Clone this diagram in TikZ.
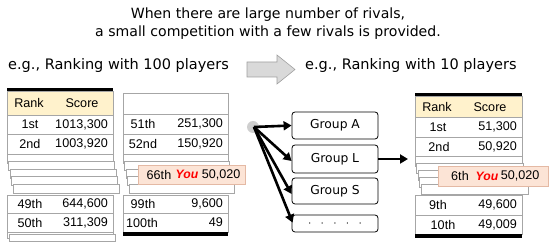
\documentclass[tikz,border=0pt]{standalone}
\usepackage{fontspec}
\setmainfont{Liberation Sans}
\newfontfamily\vfont{DejaVu Sans}
\usetikzlibrary{arrows.meta}
\definecolor{cellgray}{HTML}{A6A6A6}
\definecolor{hdrfill}{HTML}{FFF2CC}
\definecolor{youfill}{HTML}{FCE4D6}
\definecolor{youdraw}{HTML}{E4B9A4}
\definecolor{youred}{HTML}{FF0000}
\definecolor{dotgray}{HTML}{CFCFCF}
\definecolor{arrgray}{HTML}{D9D9D9}
\definecolor{arrline}{HTML}{A0A0A0}
\tikzset{
  cell/.style={draw=cellgray, fill=white, line width=0.7pt},
  hdr/.style={draw=cellgray, fill=hdrfill, line width=0.7pt},
  bar/.style={fill=black},
  txt/.style={font=\fontsize{12.6}{14}\selectfont, inner sep=0pt},
  youbox/.style={draw=youdraw, fill=youfill, line width=0.7pt},
  youtxt/.style={font=\fontsize{12.2}{14}\selectfont\bfseries\itshape, text=youred, inner sep=0pt},
  grp/.style={draw=black, fill=white, rounded corners=3pt, line width=0.8pt, minimum width=86pt, inner sep=0pt, font=\vfont\fontsize{12.3}{14}\selectfont},
  conn/.style={line width=2.6pt, -{Triangle[length=8pt,width=9pt]}},
  title/.style={font=\vfont\fontsize{14.1}{16}\selectfont, inner sep=0pt},
  sub/.style={font=\vfont\fontsize{14.5}{16}\selectfont, inner sep=0pt},
}
\begin{document}
\begin{tikzpicture}[x=1pt,y=-1pt]
\useasboundingbox (0,0) rectangle (550,248);
% titles
\node[title] (t1) at (268,15) {When there are large number of rivals,};
\node[title] (t2) at (268,33) {a small competition with a few rivals is provided.};
\node[sub, anchor=west] (eg1) at (8,66) {e.g., Ranking with 100 players};
\node[sub, anchor=west] (eg2) at (305,66) {e.g., Ranking with 10 players};
\draw[draw=arrline, fill=arrgray, line width=0.6pt]
  (247,62) -- (277,62) -- (277,55) -- (295,69.5) -- (277,84) -- (277,77) -- (247,77) -- cycle;

% ---------- table 1 ----------
\fill[bar] (7,88) rectangle (113,91.5);
\draw[hdr] (7,91.5) rectangle (113,115);
\node[txt] at (29,103) {Rank};
\node[txt] at (82,103) {Score};
\draw[cell] (7,115) rectangle (113,134);
\draw[cell] (7,134) rectangle (113,154);
\node[txt] at (30,124.5) {1st};
\node[txt, anchor=east] at (108,124.5) {1013,300};
\node[txt] at (30,144) {2nd};
\node[txt, anchor=east] at (108,144) {1003,920};
\foreach \i in {0,...,4}{
  \draw[cell] (7+1.5*\i,154+7.5*\i) rectangle (113+1.5*\i,163+7.5*\i);
}
\draw[cell] (7,195) rectangle (113,213);
\draw[cell] (7,213) rectangle (113,232);
\node[txt] at (30,204) {49th};
\node[txt, anchor=east] at (108,204) {644,600};
\node[txt] at (30,222.5) {50th};
\node[txt, anchor=east] at (108,222.5) {311,309};
\draw[cell] (7,232) rectangle (113,238);
\draw[cell] (9,234) rectangle (115,241);

% ---------- table 2 ----------
\draw[cell] (123,93) rectangle (228,114);
\draw[cell] (123,114) rectangle (228,134);
\draw[cell] (123,134) rectangle (228,154);
\node[txt] at (143,124) {51th};
\node[txt, anchor=east] at (223,124) {251,300};
\node[txt] at (143,144) {52nd};
\node[txt, anchor=east] at (223,144) {150,920};
\foreach \i in {0,...,4}{
  \draw[cell] (123+1.5*\i,154+7.5*\i) rectangle (228+1.5*\i,163+7.5*\i);
}
\draw[cell] (123,195) rectangle (228,213);
\draw[cell] (123,213) rectangle (228,232);
\node[txt] at (143,204) {99th};
\node[txt, anchor=east] at (223,204) {9,600};
\node[txt] at (142,222.5) {100th};
\node[txt, anchor=east] at (223,222.5) {49};
\fill[bar] (123,232.5) rectangle (228,236);
\draw[youbox] (138,165) rectangle (245,184);
\node[txt] at (159,174.5) {66th};
\node[youtxt, anchor=east] at (198.5,174.5) {You};
\node[txt, anchor=east] at (240.5,174.5) {50,020};

% ---------- groups ----------
\fill[dotgray] (253,127) circle (6);
\coordinate (src) at (254,127);
\node[grp, minimum height=27pt] (gA) at (335,125.5) {Group A};
\node[grp, minimum height=28pt] (gL) at (335,159) {Group L};
\node[grp, minimum height=26pt] (gS) at (335,191) {Group S};
\node[grp, minimum height=17pt] (gD) at (335,223.5) {$\cdot\;\;\cdot\;\;\cdot\;\;\cdot\;\;\cdot$};
\draw[conn] (src) -- (gA.west);
\draw[conn] (src) -- ([yshift=-2pt]gL.west);
\draw[conn] (src) -- ([yshift=-3pt]gS.west);
\draw[conn] (src) -- ([xshift=1pt,yshift=-8pt]gD.north west);
\coordinate (tgt) at (408,159);
\draw[conn] (gL.east) -- (tgt);

% ---------- table 3 ----------
\fill[bar] (415,93) rectangle (522,96.5);
\draw[hdr] (415,96.5) rectangle (522,117);
\node[txt] at (437,107) {Rank};
\node[txt] at (490,107) {Score};
\draw[cell] (415,117) rectangle (522,137);
\draw[cell] (415,137) rectangle (522,156);
\node[txt] at (438,127) {1st};
\node[txt, anchor=east] at (517,127) {51,300};
\node[txt] at (439,146.5) {2nd};
\node[txt, anchor=east] at (517,146.5) {50,920};
\foreach \i in {0,...,4}{
  \draw[cell] (415+1.5*\i,156+7.2*\i) rectangle (522+1.5*\i,166+7.2*\i);
}
\draw[cell] (415,195) rectangle (522,215);
\draw[cell] (415,215) rectangle (522,234);
\node[txt] at (438,205) {9th};
\node[txt, anchor=east] at (517,205) {49,600};
\node[txt] at (443,224.5) {10th};
\node[txt, anchor=east] at (517,224.5) {49,009};
\fill[bar] (415,234) rectangle (522,238);
\draw[youbox] (438,166) rectangle (548,186);
\node[txt] at (460,176) {6th};
\node[youtxt, anchor=east] at (498.5,176) {You};
\node[txt, anchor=east] at (539.5,176) {50,020};
\end{tikzpicture}
\end{document}
